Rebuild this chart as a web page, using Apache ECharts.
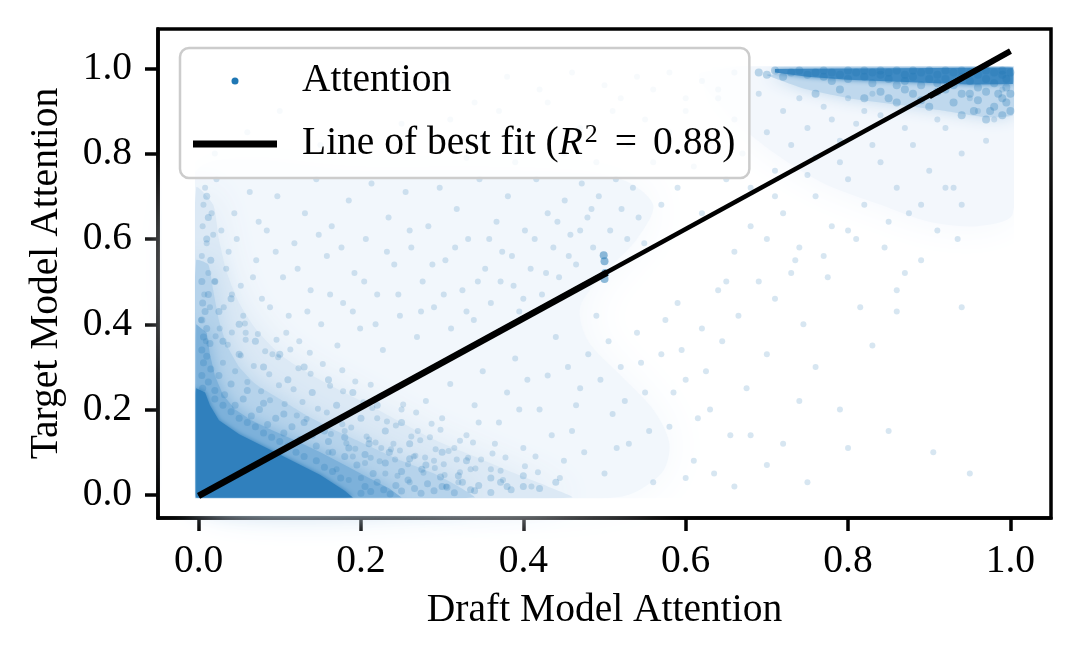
<!DOCTYPE html>
<html>
<head>
<meta charset="utf-8">
<script src="https://cdn.jsdelivr.net/npm/echarts@6/dist/echarts.min.js"></script>
<style>
html,body{margin:0;padding:0;background:#fff;}
#chart{width:1080px;height:661px;}
</style>
</head>
<body>
<div id="chart"></div>
<script>
// ---- data ----
const xTicks = [0.0, 0.2, 0.4, 0.6, 0.8, 1.0];
const yTicks = [0.0, 0.2, 0.4, 0.6, 0.8, 1.0];

// outlines of the point-density levels (where the faint points overlap)
const hazeOutline = [[-0.003,0.3],[-0.003,0.76],[0.2,0.76],[0.4,0.76],[0.52,0.74],[0.56,0.68],[0.54,0.6],[0.5,0.52],[0.47,0.44],[0.48,0.36],[0.52,0.28],[0.56,0.2],[0.58,0.12],[0.57,0.05],[0.52,-0.004],[0.3,-0.004]];
const paleOutline = [[-0.003,-0.006],[0.46,-0.006],[0.43,0.02],[0.39,0.05],[0.34,0.09],[0.29,0.13],[0.24,0.18],[0.19,0.23],[0.14,0.28],[0.1,0.33],[0.07,0.39],[0.05,0.45],[0.035,0.52],[0.025,0.6],[0.018,0.68],[-0.003,0.72]];
const lightOutline = [[-0.003,-0.006],[0.34,-0.006],[0.32,0.02],[0.29,0.05],[0.25,0.08],[0.21,0.115],[0.17,0.15],[0.13,0.19],[0.1,0.225],[0.07,0.26],[0.05,0.3],[0.035,0.35],[0.025,0.41],[0.018,0.48],[0.012,0.54],[-0.003,0.55]];
const mediumOutline = [[-0.003,-0.006],[0.25,-0.006],[0.235,0.015],[0.21,0.04],[0.18,0.07],[0.15,0.1],[0.12,0.127],[0.09,0.152],[0.065,0.175],[0.045,0.2],[0.03,0.235],[0.02,0.28],[0.014,0.33],[0.01,0.38],[-0.003,0.4]];
const coreOutline = [[-0.003,-0.006],[0.19,-0.006],[0.18,0.01],[0.15,0.047],[0.1,0.095],[0.05,0.142],[0.025,0.175],[0.014,0.21],[0.008,0.24],[-0.003,0.25]];
const topHazeOutline = [[0.62,0.99],[1.003,1.0],[1.003,0.66],[0.96,0.63],[0.9,0.64],[0.84,0.68],[0.77,0.73],[0.71,0.8],[0.66,0.88]];
const topBandOutline = [[0.7,0.985],[1.003,0.99],[1.003,0.89],[0.97,0.885],[0.92,0.9],[0.86,0.915],[0.8,0.93],[0.75,0.95]];
const topStripOutline = [[0.71,0.998],[1.003,1.002],[1.003,0.963],[0.95,0.962],[0.88,0.967],[0.8,0.973],[0.75,0.98],[0.71,0.99]];

// medium-density points round the core and up the left column
const haloPoints = [
  [0.2,0.004],[0.205,0.02],[0.212,0.008],[0.22,0.03],[0.228,0.012],[0.236,0.002],[0.243,0.022],[0.25,0.009],[0.258,0.035],[0.266,0.015],
  [0.274,0.004],[0.282,0.026],[0.29,0.01],[0.298,0.042],[0.306,0.018],[0.315,0.005],[0.325,0.03],[0.335,0.012],[0.345,0.022],[0.36,0.006],
  [0.372,0.03],[0.385,0.012],[0.4,0.02],
  [0.175,0.04],[0.165,0.055],[0.155,0.065],[0.145,0.08],[0.13,0.09],[0.12,0.1],[0.11,0.115],[0.1,0.125],[0.09,0.135],[0.08,0.145],
  [0.07,0.16],[0.06,0.17],[0.05,0.18],[0.04,0.195],[0.03,0.21],[0.02,0.225],[0.02,0.245],
  [0.215,0.05],[0.195,0.07],[0.18,0.09],[0.165,0.1],[0.145,0.115],[0.125,0.13],[0.105,0.145],[0.085,0.165],[0.065,0.185],[0.045,0.21],[0.032,0.235],
  [0.25,0.055],[0.23,0.075],[0.205,0.095],[0.185,0.11],[0.16,0.125],[0.14,0.14],[0.115,0.16],[0.095,0.18],[0.075,0.2],[0.055,0.225],[0.04,0.26],[0.025,0.28],
  [0.275,0.06],[0.26,0.085],[0.235,0.1],[0.21,0.12],[0.18,0.135],[0.155,0.15],[0.13,0.17],[0.105,0.19],[0.08,0.215],[0.06,0.245],
  [0.005,0.25],[0.012,0.265],[0.004,0.28],[0.015,0.295],[0.006,0.31],[0.01,0.325],[0.004,0.34],[0.014,0.355],[0.006,0.37],[0.01,0.39],
  [0.004,0.41],[0.008,0.43],[0.005,0.45],[0.012,0.47],[0.004,0.5],
  [0.3,0.02],[0.32,0.045],[0.34,0.01],[0.36,0.04],[0.38,0.02],[0.4,0.045],[0.42,0.015],[0.44,0.03],
  [0.28,0.07],[0.3,0.1],[0.33,0.08],[0.26,0.12],[0.23,0.15],[0.25,0.17],[0.2,0.18],[0.22,0.21],[0.17,0.21],[0.19,0.24],
  [0.14,0.24],[0.16,0.27],[0.11,0.27],[0.13,0.3],[0.08,0.3],[0.1,0.33],[0.05,0.33],[0.07,0.36],[0.03,0.36],[0.05,0.4],
  [0.025,0.43],[0.04,0.46],[0.02,0.5],[0.015,0.55],[0.01,0.6],[0.012,0.65],[0.01,0.7]
];

// small dark cluster at x = 0.5
const cluster = [[0.5,0.506],[0.501,0.52],[0.5,0.548],[0.499,0.562]];

// faint scattered points
const sparsePoints = [
  [0.03,0.31],[0.045,0.29],[0.06,0.265],[0.077,0.243],[0.088,0.222],[0.106,0.213],[0.121,0.186],[0.133,0.178],[0.152,0.158],[0.163,0.143],
  [0.182,0.121],[0.193,0.108],[0.212,0.087],[0.223,0.079],[0.242,0.083],[0.258,0.072],[0.277,0.052],[0.291,0.063],[0.303,0.047],[0.322,0.053],
  [0.036,0.352],[0.052,0.327],[0.068,0.302],[0.087,0.283],[0.099,0.257],[0.117,0.248],[0.128,0.218],[0.147,0.202],[0.158,0.193],[0.177,0.166],
  [0.188,0.158],[0.207,0.137],[0.218,0.123],[0.237,0.107],[0.248,0.104],[0.267,0.092],[0.279,0.088],[0.302,0.072],[0.318,0.083],[0.341,0.062],
  [0.021,0.372],[0.041,0.381],[0.058,0.364],[0.082,0.337],[0.098,0.323],[0.123,0.297],[0.138,0.284],[0.162,0.256],[0.178,0.243],[0.203,0.217],
  [0.214,0.204],[0.232,0.172],[0.243,0.163],[0.262,0.137],[0.273,0.128],[0.292,0.107],[0.308,0.103],[0.332,0.087],[0.348,0.083],[0.372,0.057],
  [0.057,0.402],[0.073,0.377],[0.096,0.364],[0.113,0.341],[0.137,0.333],[0.153,0.307],[0.177,0.292],[0.193,0.266],[0.212,0.258],[0.223,0.231],
  [0.252,0.212],[0.268,0.193],[0.287,0.167],[0.298,0.153],[0.322,0.127],[0.338,0.123],[0.362,0.097],[0.378,0.088],[0.402,0.067],[0.418,0.053],
  [0.012,0.52],[0.018,0.61],[0.006,0.68],[0.022,0.74],[0.031,0.44],[0.037,0.57],[0.044,0.66],[0.052,0.49],[0.058,0.38],[0.063,0.71],
  [0.071,0.55],[0.078,0.46],[0.084,0.62],[0.091,0.33],[0.097,0.7],[0.104,0.51],[0.111,0.42],[0.118,0.59],[0.124,0.36],[0.131,0.66],
  [0.138,0.48],[0.145,0.74],[0.151,0.4],[0.158,0.56],[0.164,0.63],[0.171,0.35],[0.178,0.45],[0.185,0.69],[0.192,0.52],[0.199,0.39],
  [0.206,0.6],[0.213,0.73],[0.22,0.47],[0.227,0.34],[0.234,0.65],[0.241,0.54],[0.248,0.42],[0.255,0.71],[0.262,0.58],[0.269,0.37],
  [0.276,0.5],[0.283,0.63],[0.29,0.44],[0.297,0.72],[0.304,0.55],[0.311,0.39],[0.318,0.67],[0.325,0.48],[0.332,0.6],[0.339,0.41],
  [0.346,0.74],[0.353,0.53],[0.36,0.45],[0.367,0.64],[0.374,0.57],[0.381,0.7],[0.388,0.49],[0.395,0.43],[0.402,0.62],[0.409,0.53],
  [0.416,0.74],[0.423,0.47],[0.43,0.66],[0.437,0.58],[0.444,0.51],[0.451,0.69],[0.458,0.61],[0.465,0.54],[0.472,0.73],[0.479,0.65],
  [0.486,0.58],[0.493,0.7],[0.507,0.62],[0.514,0.74],[0.521,0.67],[0.528,0.6],[0.535,0.72],[0.542,0.65],[0.549,0.59],
  [0.003,0.41],[0.004,0.56],[0.005,0.63],[0.007,0.47],[0.008,0.72],[0.009,0.36],[0.01,0.59],[0.014,0.44],[0.016,0.66],[0.02,0.5],
  [0.026,0.39],[0.028,0.62],[0.034,0.53],[0.041,0.47],[0.047,0.6],[0.055,0.42],[0.067,0.51],[0.074,0.64],[0.088,0.44],[0.095,0.57],
  [0.108,0.38],[0.122,0.53],[0.134,0.43],[0.148,0.61],[0.162,0.47],[0.176,0.58],[0.19,0.43],[0.204,0.5],[0.218,0.4],[0.232,0.57],
  [0.246,0.47],[0.26,0.62],[0.274,0.43],[0.288,0.54],[0.302,0.47],[0.316,0.58],[0.33,0.43],[0.344,0.5],[0.358,0.6],[0.372,0.5],
  [0.386,0.56],[0.4,0.46],[0.414,0.6],[0.428,0.52],[0.442,0.64],[0.456,0.56],[0.47,0.62],[0.484,0.67],
  [0.16,0.1],[0.17,0.06],[0.18,0.15],[0.19,0.09],[0.2,0.04],[0.21,0.13],[0.22,0.18],[0.23,0.05],[0.24,0.12],[0.25,0.2],
  [0.26,0.03],[0.27,0.15],[0.28,0.22],[0.29,0.08],[0.3,0.18],[0.31,0.26],[0.32,0.03],[0.33,0.14],[0.34,0.21],[0.35,0.29],
  [0.36,0.06],[0.37,0.17],[0.38,0.24],[0.39,0.32],[0.4,0.11],[0.41,0.02],[0.42,0.2],[0.43,0.28],[0.44,0.37],[0.45,0.08],
  [0.46,0.15],[0.47,0.25],[0.48,0.33],[0.49,0.42],[0.5,0.05],[0.51,0.19],[0.52,0.3],[0.53,0.12],[0.54,0.38],[0.55,0.24],
  [0.56,0.03],[0.57,0.33],[0.58,0.16],[0.59,0.45],[0.6,0.27],[0.61,0.08],[0.62,0.39],[0.63,0.2],[0.64,0.48],
  [0.185,0.035],[0.205,0.075],[0.225,0.11],[0.245,0.045],[0.265,0.09],[0.285,0.135],[0.305,0.02],[0.315,0.11],[0.335,0.06],[0.345,0.17],
  [0.365,0.12],[0.375,0.035],[0.395,0.2],[0.405,0.27],[0.415,0.09],[0.435,0.14],[0.445,0.04],[0.455,0.3],[0.465,0.21],[0.475,0.1],
  [0.495,0.27],[0.505,0.36],[0.515,0.11],[0.525,0.22],[0.545,0.31],[0.555,0.15],[0.575,0.41],[0.585,0.24],[0.595,0.34],[0.615,0.18],
  [0.625,0.29],[0.635,0.05],[0.645,0.36],[0.655,0.14],[0.665,0.42],[0.675,0.25],[0.69,0.5],[0.7,0.33],[0.71,0.46],[0.72,0.12],
  [0.735,0.55],[0.745,0.4],[0.76,0.3],[0.775,0.51],[0.79,0.2],[0.8,0.62],[0.815,0.44],[0.83,0.35],[0.845,0.58],[0.86,0.48],
  [0.875,0.66],[0.89,0.55],[0.905,0.1],[0.92,0.72],[0.935,0.6],[0.95,0.05],[0.75,0.03],[0.7,0.07],[0.66,0.02],[0.8,0.11],
  [0.85,0.15],[0.6,0.04],[0.68,0.14],[0.74,0.22],[0.94,0.44],[0.86,0.43],
  [0.56,0.78],[0.57,0.68],[0.58,0.85],[0.59,0.72],[0.6,0.9],[0.61,0.77],[0.62,0.66],[0.63,0.83],[0.64,0.93],[0.65,0.74],
  [0.66,0.88],[0.67,0.8],[0.68,0.72],[0.69,0.94],[0.7,0.85],[0.71,0.76],[0.72,0.9],[0.73,0.82],[0.74,0.93],[0.75,0.86],
  [0.76,0.79],[0.77,0.91],[0.78,0.88],[0.79,0.83],[0.8,0.93],[0.81,0.87],[0.82,0.9],[0.83,0.94],[0.84,0.89],[0.55,0.88],
  [0.53,0.82],[0.51,0.9],[0.49,0.78],[0.47,0.86],[0.45,0.8],[0.43,0.92],[0.41,0.84],[0.39,0.78],[0.37,0.9],[0.35,0.83],
  [0.33,0.79],[0.31,0.88],
  [0.7,0.6],[0.72,0.66],[0.74,0.58],[0.76,0.7],[0.78,0.63],[0.8,0.74],[0.82,0.68],[0.84,0.78],[0.86,0.72],[0.88,0.82],
  [0.9,0.76],[0.92,0.86],[0.94,0.8],[0.96,0.9],[0.73,0.52],[0.77,0.56],[0.81,0.6],[0.85,0.64],[0.89,0.68],[0.93,0.72],
  [0.97,0.83],[0.71,0.7],[0.75,0.75],[0.79,0.78],[0.83,0.82],[0.87,0.86],[0.91,0.88],[0.95,0.93],[0.99,0.95],[0.98,0.88],
  [0.66,0.57],[0.68,0.63],[0.65,0.5],[0.87,0.52],[0.91,0.62],[0.94,0.68],
  [0.02,0.8],[0.06,0.85],[0.1,0.9],[0.15,0.82],[0.2,0.95],[0.25,0.87],[0.3,0.97],[0.34,0.92],[0.38,0.98],[0.42,0.95],
  [0.46,0.99],[0.5,0.96],[0.54,0.98],[0.58,0.99],[0.62,0.97],[0.66,0.99],[0.64,0.95],[0.6,0.93],[0.56,0.95],[0.52,0.93]
];

// points in the band near y = 1 on the right
const topBand = [
  [0.69,0.99],[0.7,0.985],[0.71,0.995],[0.72,0.98],[0.73,0.99],[0.74,0.995],[0.75,0.985],[0.76,0.99],[0.77,0.98],[0.77,0.995],
  [0.78,0.99],[0.78,0.97],[0.79,0.985],[0.8,0.995],[0.8,0.975],[0.81,0.99],[0.82,0.98],[0.82,0.995],[0.83,0.965],[0.83,0.99],
  [0.84,0.985],[0.84,0.995],[0.85,0.975],[0.85,0.99],[0.86,0.96],[0.86,0.995],[0.87,0.985],[0.87,0.97],[0.88,0.995],[0.88,0.98],
  [0.89,0.99],[0.89,0.96],[0.9,0.975],[0.9,0.995],[0.91,0.985],[0.91,0.965],[0.92,0.995],[0.92,0.975],[0.93,0.99],[0.93,0.96],
  [0.94,0.98],[0.94,0.995],[0.95,0.97],[0.95,0.99],[0.96,0.985],[0.96,0.955],[0.97,0.995],[0.97,0.975],[0.98,0.99],[0.98,0.965],
  [0.99,0.985],[0.99,0.995],[0.995,0.975],[0.995,0.955],[1.0,0.99],
  [0.76,0.94],[0.79,0.95],[0.82,0.93],[0.84,0.945],[0.86,0.92],[0.88,0.94],[0.9,0.91],[0.91,0.945],[0.93,0.92],[0.94,0.94],
  [0.96,0.925],[0.97,0.945],[0.98,0.91],[0.99,0.93],[1.0,0.94],[1.0,0.9],[0.995,0.92],[0.985,0.94],[0.975,0.9],[0.955,0.9],
  [0.95,0.94],[0.92,0.95],[0.89,0.925],[0.87,0.95],[0.85,0.93],[0.97,0.88],[0.99,0.89],[0.94,0.89]
];

// line of best fit, R^2 = 0.88
const fitLine = [[0.0,-0.002],[1.0,1.04]];
const fitDenseA = [[0.0,-0.002],[0.503,0.521]];
const fitDenseB = [[0.9,0.934],[1.0,1.04]];

// empty margins of the data area (no points below y = 0, left of x = 0, right of x = 1, above y = 1)
const bottomMargin = [[-0.045,-0.049],[1.045,-0.049],[1.045,-0.0075],[-0.045,-0.0075]];
const leftMargin = [[-0.045,-0.049],[-0.0045,-0.049],[-0.0045,1.087],[-0.045,1.087]];
const rightMargin = [[1.0045,-0.049],[1.045,-0.049],[1.045,1.087],[1.0045,1.087]];
const topMargin = [[0.55,1.0045],[1.045,1.0045],[1.045,1.087],[0.55,1.087]];

// ---- chart ----
const FONT = 'Liberation Serif';
const FS = 39.5;
const chart = echarts.init(document.getElementById('chart'), null, {renderer:'canvas'});
const blue = '#1f77b4';

function areaSeries(outline, fill, blur, smooth, z) {
  return {
    name: 'Attention', type: 'custom', coordinateSystem: 'cartesian2d', data: outline, z: z, silent: true,
    renderItem: function (params, api) {
      if (params.dataIndex !== 0) return null;
      const pts = outline.map(p => api.coord(p));
      return {type: 'polygon', shape: {points: pts, smooth: smooth}, style: {fill: fill, shadowBlur: blur, shadowColor: blur ? fill : 'transparent'}};
    }
  };
}

const option = {
  animation: false,
  backgroundColor: '#fff',
  textStyle: {fontFamily: FONT, color: '#000'},
  grid: {left: 158, right: 29, top: 29, bottom: 143, show: true, borderColor: '#000', borderWidth: 3.5, backgroundColor: 'transparent'},
  xAxis: {
    type: 'value', min: -0.05, max: 1.05,
    name: 'Draft Model Attention', nameLocation: 'middle', nameGap: 73,
    nameTextStyle: {fontFamily: FONT, fontSize: FS, color: '#000'},
    axisLine: {show: true, onZero: false, lineStyle: {color: '#000', width: 3.5}},
    axisTick: {show: true, inside: false, length: 13, customValues: xTicks, lineStyle: {color: '#000', width: 3.5}},
    axisLabel: {customValues: xTicks, margin: 24, fontFamily: FONT, fontSize: FS, color: '#000', formatter: v => v.toFixed(1)},
    splitLine: {show: false}
  },
  yAxis: {
    type: 'value', min: -0.054, max: 1.092,
    name: 'Target Model Attention', nameLocation: 'middle', nameGap: 91, nameRotate: 90,
    nameTextStyle: {fontFamily: FONT, fontSize: FS, color: '#000'},
    axisLine: {show: true, onZero: false, lineStyle: {color: '#000', width: 3.5}},
    axisTick: {show: true, inside: false, length: 13, customValues: yTicks, lineStyle: {color: '#000', width: 3.5}},
    axisLabel: {customValues: yTicks, margin: 26, fontFamily: FONT, fontSize: FS, color: '#000', formatter: v => v.toFixed(1)},
    splitLine: {show: false}
  },
  legend: {
    orient: 'vertical', left: 180, top: 48, z: 10,
    padding: [11, 14, 12, 13],
    itemWidth: 84, itemHeight: 7, itemGap: 19,
    backgroundColor: 'rgba(255,255,255,0.8)', borderColor: '#cccccc', borderWidth: 2.5, borderRadius: 9,
    data: [
      {name: 'Attention', icon: 'circle', itemStyle: {color: blue, opacity: 1, shadowBlur: 0}},
      {name: 'Line of best fit', icon: 'rect', itemStyle: {color: '#000', opacity: 1}}
    ],
    formatter: n => n === 'Line of best fit' ? 'Line of best fit ({i|R}{s|2}{e|=}0.88)' : n,
    textStyle: {
      fontFamily: FONT, fontSize: FS, color: '#000', lineHeight: 44, padding: [0, 0, 0, 20],
      rich: {
        i: {fontFamily: FONT, fontStyle: 'italic', fontSize: FS, lineHeight: 44},
        s: {fontFamily: FONT, fontSize: 26, lineHeight: 44, verticalAlign: 'top', padding: [0, 0, 14, 2]},
        e: {fontFamily: FONT, fontSize: FS, lineHeight: 44, padding: [0, 16, 0, 17]}
      }
    }
  },
  series: [
    areaSeries(hazeOutline, '#f2f7fc', 50, 0.3, 1),
    areaSeries(topHazeOutline, '#f3f7fc', 40, 0.3, 1),
    areaSeries(paleOutline, '#dce9f5', 36, 0.2, 1),
    areaSeries(lightOutline, '#b6d3eb', 26, 0.15, 1),
    areaSeries(mediumOutline, '#7db1da', 16, 0, 1),
    areaSeries(coreOutline, '#3080bd', 5, 0, 1),
    areaSeries(topBandOutline, '#bfd8ed', 16, 0.1, 1),
    areaSeries(topStripOutline, '#3f8ac3', 5, 0, 1),
    areaSeries(bottomMargin, '#ffffff', 0, 0, 1.5),
    areaSeries(leftMargin, '#ffffff', 0, 0, 1.5),
    areaSeries(rightMargin, '#ffffff', 0, 0, 1.5),
    areaSeries(topMargin, '#ffffff', 0, 0, 1.5),
    {name: 'Attention', type: 'scatter', data: sparsePoints, symbolSize: 6, itemStyle: {color: blue, opacity: 0.18}, silent: true, z: 2},
    {name: 'Attention', type: 'scatter', data: haloPoints, symbolSize: 7, itemStyle: {color: blue, opacity: 0.22}, silent: true, z: 2},
    {name: 'Attention', type: 'scatter', data: cluster, symbolSize: 8, itemStyle: {color: blue, opacity: 0.5}, silent: true, z: 2},
    {name: 'Attention', type: 'scatter', data: topBand, symbolSize: 8, itemStyle: {color: blue, opacity: 0.28}, silent: true, z: 2},
    {name: 'Line of best fit', type: 'line', data: fitLine, symbol: 'none', lineStyle: {color: '#000', width: 4.5}, z: 3},
    {name: 'fit-dense-a', type: 'line', data: fitDenseA, symbol: 'none', lineStyle: {color: '#000', width: 6.5}, z: 3},
    {name: 'fit-dense-b', type: 'line', data: fitDenseB, symbol: 'none', lineStyle: {color: '#000', width: 6}, z: 3}
  ]
};
chart.setOption(option);
</script>
</body>
</html>
